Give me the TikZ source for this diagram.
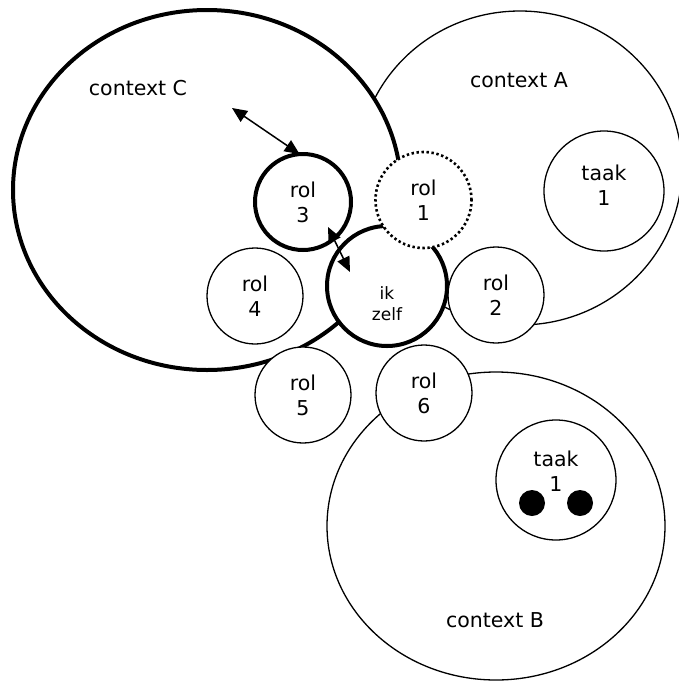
\documentclass[tikz,border=0pt]{standalone}
\usepackage{fontspec}
\setmainfont{DejaVu Sans}
\usetikzlibrary{arrows.meta,shapes.geometric}
\begin{document}
\begin{tikzpicture}[x=1pt,y=-1pt,
  thinline/.style={line width=1.3pt},
  thickline/.style={line width=4pt},
  txt/.style={font=\fontsize{20.5}{25}\selectfont, align=center, inner sep=0pt},
  smalltxt/.style={font=\fontsize{17}{21}\selectfont, align=center, inner sep=0pt},
  ctx/.style={ellipse, draw, fill=white, inner sep=0pt, outer sep=0pt},
  disc/.style={circle, draw, fill=white, inner sep=0pt, outer sep=0pt, txt},
  role/.style={disc, thinline, minimum size=96pt},
  dotrole/.style={disc, line width=2.6pt, dash pattern=on 2.4pt off 2.6pt, minimum size=96pt},
  keyrole/.style={disc, thickline, minimum size=96pt},
  task/.style={disc, thinline, minimum size=120pt},
  dot/.style={circle, fill=black, inner sep=0pt, minimum size=26pt},
  link/.style={line width=1.5pt, {Triangle[length=15pt,width=13pt]}-{Triangle[length=15pt,width=13pt]}}
]
\useasboundingbox (0,0) rectangle (679,681);

% the three contexts
\node[ctx, thinline, minimum width=324pt, minimum height=314pt] (ctxA) at (520,168) {};
\node[ctx, thickline, minimum width=388pt, minimum height=360pt] (ctxC) at (207,190) {};
\node[ctx, thinline, minimum width=338pt, minimum height=308pt] (ctxB) at (496,526) {};

\node[txt] (labA) at (519,80) {context A};
\node[txt] (labC) at (138,88) {context C};
\node[txt] (labB) at (495,620) {context B};

% tasks
\node[task] (taakA) at (604,191) {};
\node[txt] (taakAtxt) at (604,185) {taak\\1};
\node[task] (taakB) at (556,480) {};
\node[txt] (taakBtxt) at (556,471) {taak\\1};
\node[dot] (dotL) at (532,503) {};
\node[dot] (dotR) at (580,503) {};

% roles around the self
\node[role] (rol2) at (496,295) {rol\\2};
\node[keyrole] (rol3) at (303,202) {rol\\3};
\node[role] (rol4) at (255,296) {rol\\4};
\node[role] (rol5) at (303,395) {rol\\5};
\node[role] (rol6) at (424,393) {rol\\6};
\node[disc, thickline, minimum size=120pt] (self) at (387,286) {};
\node[smalltxt] (selftxt) at (387,304) {ik\\zelf};
\node[dotrole] (rol1) at (423.5,200) {rol\\1};

% interactions
\coordinate (ctxCpt) at (232,108);
\coordinate (rol3pt) at (328,227);
\coordinate (selfpt) at (350,272);
\draw[link] (ctxCpt) -- (rol3.94);
\draw[link] (rol3pt) -- (selfpt);
\end{tikzpicture}
\end{document}
